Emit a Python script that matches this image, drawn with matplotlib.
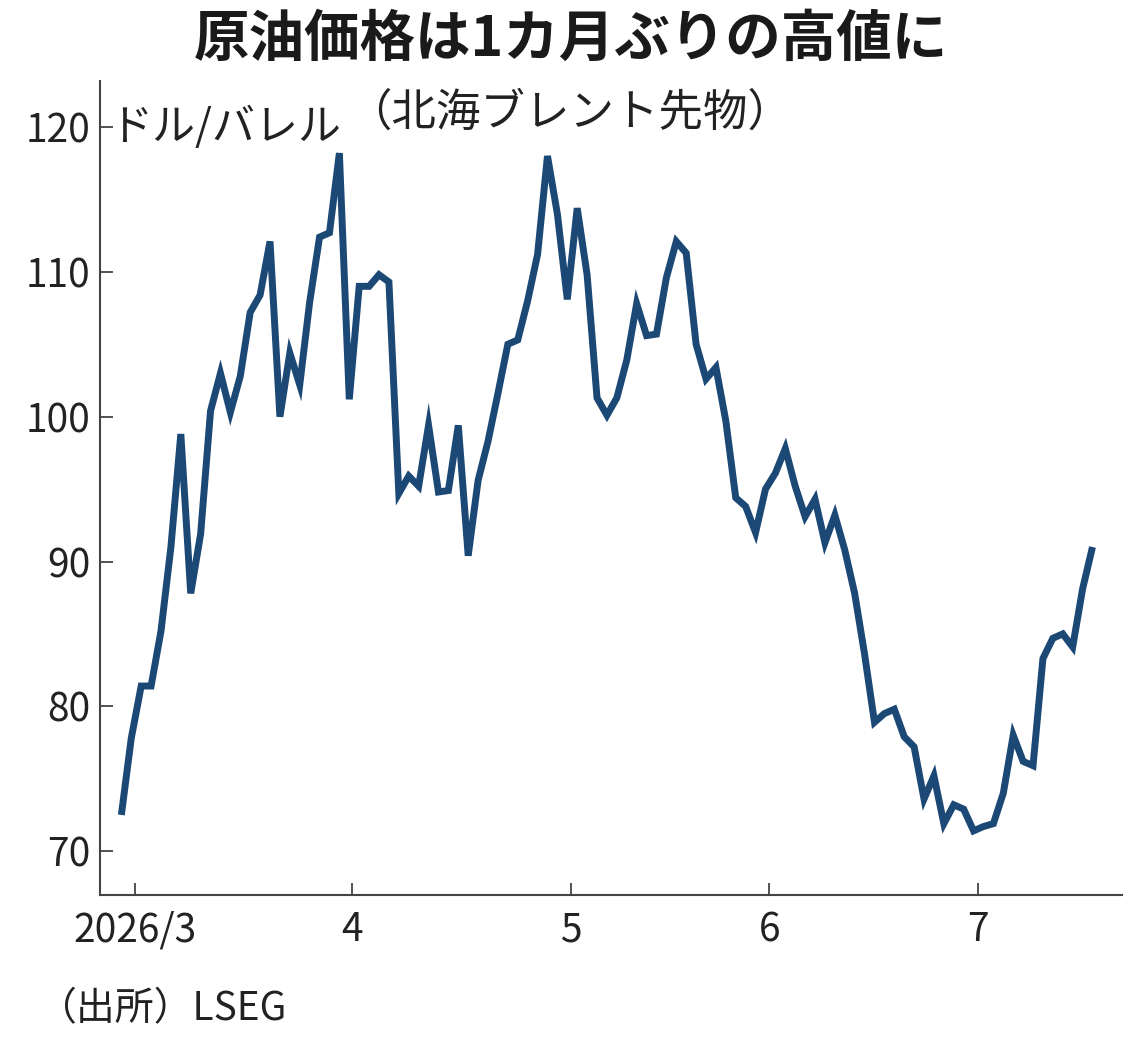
import matplotlib
matplotlib.use('Agg')
import matplotlib.pyplot as plt

plt.rcParams['font.family'] = ['Noto Sans CJK JP', 'DejaVu Sans']

# Brent futures close, one value per trading day (USD/bbl)
prices = [
    72.5, 77.8, 81.4, 81.4, 85.2, 91.0, 98.8, 87.8, 91.9, 100.4,
    103.0, 100.3, 102.8, 107.2, 108.4, 112.1, 100.0, 104.4, 102.2, 107.9,
    112.4, 112.7, 118.2, 101.2, 109.0, 109.0, 109.8, 109.3, 94.7, 95.9,
    95.2, 99.4, 94.8, 94.9, 99.4, 90.4, 95.6, 98.3, 101.6, 105.0,
    105.3, 108.0, 111.2, 118.0, 114.0, 108.1, 114.4, 109.8, 101.3, 100.1,
    101.3, 103.9, 107.8, 105.6, 105.7, 109.6, 112.1, 111.3, 105.0, 102.6,
    103.4, 99.7, 94.4, 93.8, 92.0, 95.0, 96.1, 97.8, 95.2, 93.1,
    94.3, 91.3, 93.2, 90.8, 87.8, 83.6, 78.9, 79.5, 79.8, 77.9,
    77.2, 73.6, 75.2, 71.9, 73.2, 72.9, 71.4, 71.7, 71.9, 74.0,
    78.0, 76.2, 75.9, 83.3, 84.7, 85.0, 84.1, 88.1, 91.0,
]
days = list(range(len(prices)))

# month starts expressed in trading-day index
month_pos = [1.4, 23.3, 45.4, 65.4, 86.4]
month_labels = ['2026/3', '4', '5', '6', '7']
y_ticks = [70, 80, 90, 100, 110, 120]

navy = '#1c4875'
ink = '#222222'

fig = plt.figure(figsize=(11.37, 10.44), dpi=100)
ax = fig.add_axes([0.088, 0.1427, 0.899, 0.780])

ax.plot(days, prices, color=navy, linewidth=5.0, solid_joinstyle='miter',
        solid_capstyle='butt')

ax.set_xlim(-2.15, 101)
ax.set_ylim(66.97, 123.2)

ax.set_xticks(month_pos)
ax.set_xticklabels(month_labels)
ax.set_yticks(y_ticks)
ax.set_yticklabels([str(v) for v in y_ticks])

for lab in ax.get_xticklabels() + ax.get_yticklabels():
    lab.set_fontsize(28)
    lab.set_color(ink)

ax.tick_params(axis='x', direction='in', length=9, width=1.3, color='#444444', pad=11)
ax.tick_params(axis='y', direction='in', length=9, width=1.3, color='#444444', pad=7)

for side in ['top', 'right']:
    ax.spines[side].set_visible(False)
for side in ['left', 'bottom']:
    ax.spines[side].set_color('#444444')
    ax.spines[side].set_linewidth(1.5)

fig.text(0.502, 0.962, '原油価格は1カ月ぶりの高値に', ha='center', va='center',
         fontsize=40, fontweight='bold', color='#1a1a1a')
fig.text(0.501, 0.892, '（北海ブレント先物）', ha='center', va='center',
         fontsize=32, color=ink)
fig.text(0.096, 0.877, 'ドル/バレル', ha='left', va='center',
         fontsize=31, color=ink)
fig.text(0.033, 0.033, '（出所）LSEG', ha='left', va='center',
         fontsize=28, color=ink)

fig.savefig('out.png', dpi=100, facecolor='white')
